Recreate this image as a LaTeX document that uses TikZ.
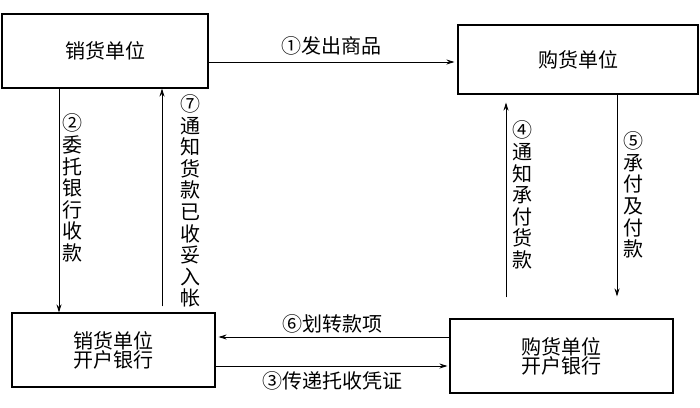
\documentclass[tikz,border=0pt]{standalone}
\usepackage{fontspec}
\setmainfont{Noto Sans CJK SC}
\usetikzlibrary{arrows.meta}
\begin{document}
\begin{tikzpicture}[x=1pt,y=-1pt,
  box/.style={draw,line width=1.1pt,inner sep=0pt,font=\fontsize{20}{23}\selectfont,align=center},
  conn/.style={line width=0.8pt,-{Stealth[length=8pt,width=5pt]}},
  lab/.style={font=\fontsize{20}{21.6}\selectfont,inner sep=0pt,align=center}]
\useasboundingbox (0,0) rectangle (700,407);
\node[box,minimum width=206pt,minimum height=74pt] (A) at (105,51) {销货单位};
\node[box,minimum width=240pt,minimum height=69pt] (B) at (578,59.5) {购货单位};
\node[box,minimum width=203pt,minimum height=74pt] (C) at (113.5,350) {销货单位\\[-4pt]开户银行};
\node[box,minimum width=223pt,minimum height=74pt] (D) at (561.5,356) {购货单位\\[-4pt]开户银行};
\coordinate (y1) at (0,62);
\coordinate (x2) at (59,0);
\coordinate (x7) at (162,0);
\coordinate (x4) at (506,0);
\coordinate (x5) at (617,0);
\coordinate (y6) at (0,337);
\coordinate (y3) at (0,366);
\draw[conn] (A.east |- y1) -- node[lab,above=6pt] (l1) {①发出商品} ([xshift=-3pt]B.west |- y1);
\draw[conn] (A.south -| x2) -- (C.north -| x2);
\draw[conn,shorten <=6pt] (C.north -| x7) -- (A.south -| x7);
\draw[conn,shorten <=21pt,shorten >=8pt] (D.north -| x4) -- (B.south -| x4);
\draw[conn,shorten >=22pt] (B.south -| x5) -- (D.north -| x5);
\draw[conn,shorten >=3pt] (D.west |- y6) -- node[lab,above=3pt] (l6) {⑥划转款项} (C.east |- y6);
\draw[conn,shorten >=2pt] (C.east |- y3) -- node[lab,below=5pt] (l3) {③传递托收凭证} (D.west |- y3);
\node[lab] (l2) at (72,188) {②\\委\\托\\银\\行\\收\\款};
\node[lab] (l7) at (190,201) {⑦\\通\\知\\货\\款\\已\\收\\妥\\入\\帐};
\node[lab] (l4) at (522,195) {④\\通\\知\\承\\付\\货\\款};
\node[lab] (l5) at (633,195) {⑤\\承\\付\\及\\付\\款};
\end{tikzpicture}
\end{document}
